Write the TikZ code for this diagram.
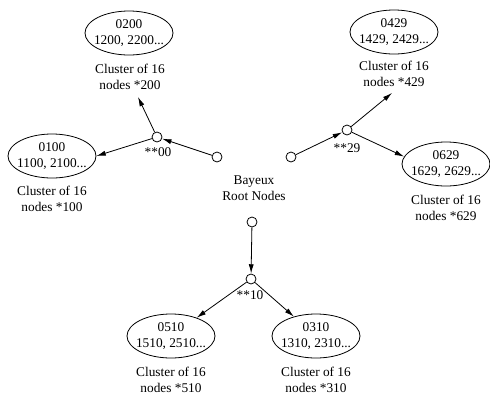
\documentclass[tikz,border=0pt]{standalone}
\usepackage{fontspec}
\setmainfont{Liberation Serif}
\usetikzlibrary{arrows.meta,shapes.geometric}
\begin{document}
\begin{tikzpicture}[x=0.75pt,y=-0.75pt,
  every node/.style={font=\fontsize{10pt}{12pt}\selectfont},
  cluster/.style={draw,ellipse,line width=0.6pt,minimum width=66pt,minimum height=33pt,inner xsep=-3pt,inner ysep=0.5pt,align=center},
  caption/.style={align=center,inner sep=1pt},
  hub/.style={draw,circle,line width=0.6pt,minimum size=7.5pt,inner sep=0pt},
  link/.style={line width=0.6pt,-{Latex[length=7pt,width=3.8pt]}}]
\useasboundingbox (0,0) rectangle (490,397);

% clusters and their captions
\node[cluster] (e0200) at (129,33) {0200\\1200, 2200...};
\node[caption] (L0200) at (130,77) {Cluster of 16\\nodes *200};
\node[cluster] (e0100) at (52,156) {0100\\1100, 2100...};
\node[caption] (L0100) at (52,199) {Cluster of 16\\nodes *100};
\node[cluster] (e0429) at (394,32) {0429\\1429, 2429...};
\node[caption] (L0429) at (394,74) {Cluster of 16\\nodes *429};
\node[cluster] (e0629) at (446,164) {0629\\1629, 2629...};
\node[caption] (L0629) at (446,208) {Cluster of 16\\nodes *629};
\node[cluster] (e0510) at (171,336) {0510\\1510, 2510...};
\node[caption] (L0510) at (171,380) {Cluster of 16\\nodes *510};
\node[cluster] (e0310) at (316,336) {0310\\1310, 2310...};
\node[caption] (L0310) at (316,380) {Cluster of 16\\nodes *310};

% root nodes
\node[hub] (rL) at (217,157) {};
\node[hub] (rR) at (291,157) {};
\node[hub] (rB) at (252,222) {};
\node[caption] (root) at (254,188) {Bayeux\\Root Nodes};

% intermediate hops
\node[hub] (c00) at (157,137) {};
\node[caption] (l00) at (158,152) {**00};
\node[hub] (c29) at (347,130) {};
\node[caption] (l29) at (347,148) {**29};
\node[hub] (c10) at (251,279) {};
\node[caption] (l10) at (250,295) {**10};

\coordinate (t200) at (138,97);
\coordinate (t429) at (392,93);

% routes
\draw[link] (rL) -- (c00);
\draw[link] (c00) -- (t200);
\draw[link] (c00) -- (e0100.east);
\draw[link] (rR) -- (c29);
\draw[link] (c29) -- (t429);
\draw[link] (c29) -- (e0629.170);
\draw[link] (rB) -- (c10);
\draw[link] (c10) -- (e0510);
\draw[link] (c10) -- (e0310);
\end{tikzpicture}
\end{document}
